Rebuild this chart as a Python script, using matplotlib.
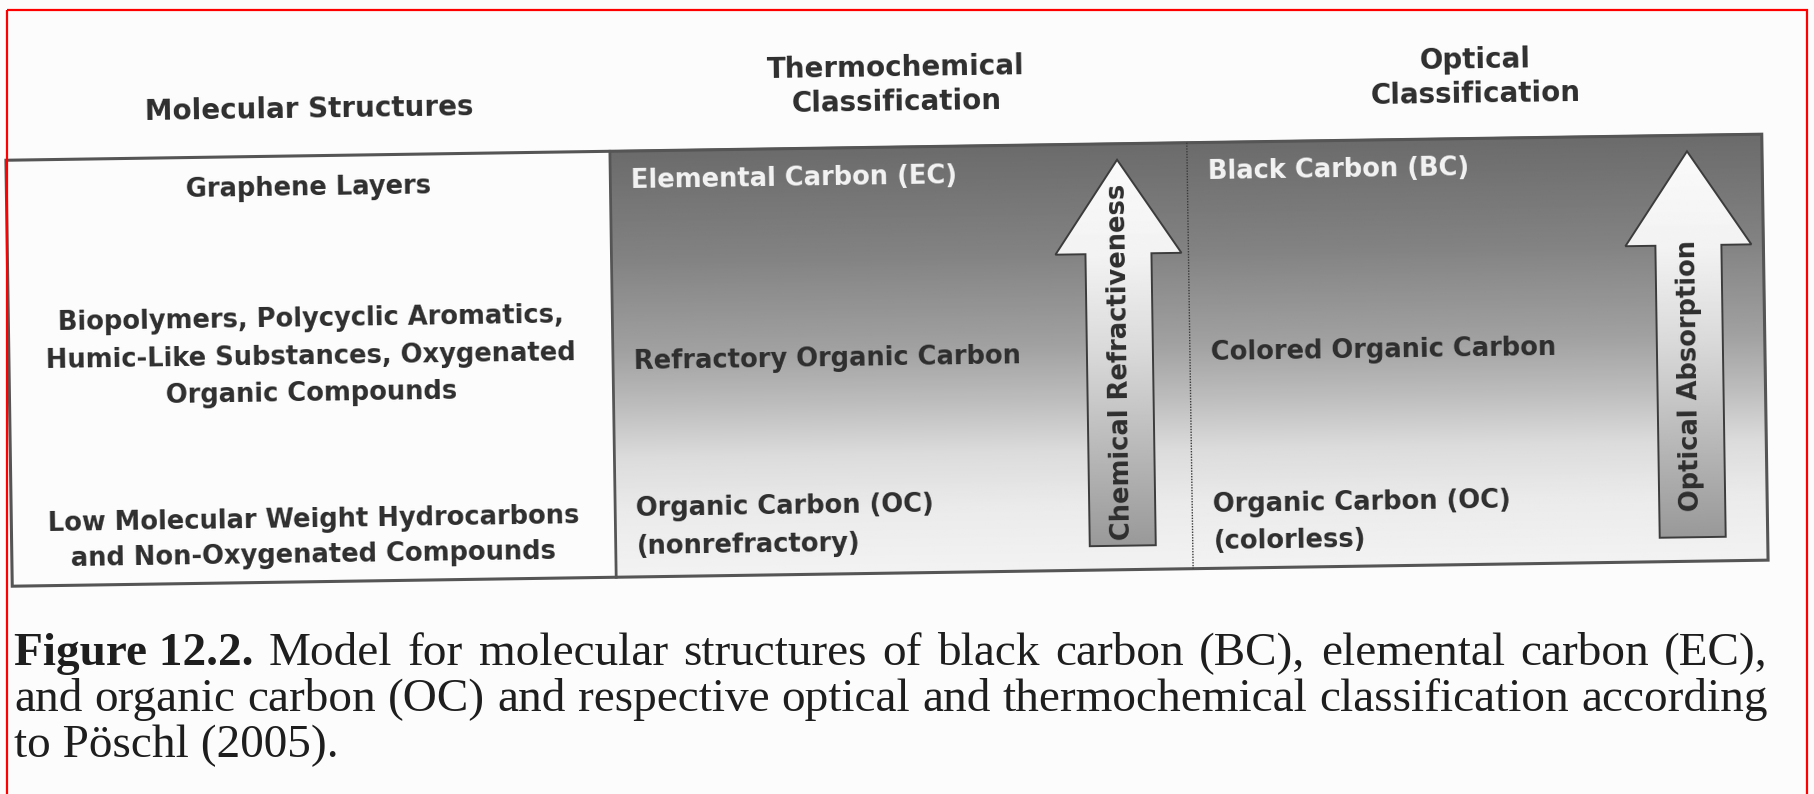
import matplotlib
matplotlib.use("Agg")
import matplotlib.pyplot as plt
import numpy as np
from matplotlib.patches import Rectangle, Polygon
from matplotlib.transforms import Affine2D

# Noi dung so do (doc tu hinh goc)
col_headers = ["Molecular Structures", "Thermochemical\nClassification", "Optical\nClassification"]
structures = [
    "Graphene Layers",
    "Biopolymers, Polycyclic Aromatics,\nHumic-Like Substances, Oxygenated\nOrganic Compounds",
    "Low Molecular Weight Hydrocarbons\nand Non-Oxygenated Compounds",
]
thermo_classes = ["Elemental Carbon (EC)", "Refractory Organic Carbon", "Organic Carbon (OC)\n(nonrefractory)"]
optical_classes = ["Black Carbon (BC)", "Colored Organic Carbon", "Organic Carbon (OC)\n(colorless)"]
arrow_labels = ["Chemical Refractiveness", "Optical Absorption"]
caption_bold = "Figure 12.2."
caption_lines = [
    "Model for molecular structures of black carbon (BC), elemental carbon (EC),",
    "and organic carbon (OC) and respective optical and thermochemical classification according",
    "to Pöschl (2005).",
]

W, H = 1814, 794
TILT = 0.85  # ban scan hoi nghieng

fig = plt.figure(figsize=(W / 100, H / 100), dpi=100)
fig.patch.set_facecolor("#fcfcfc")
ax = fig.add_axes([0, 0, 1, 1])
ax.set_xlim(0, W)
ax.set_ylim(H, 0)
ax.axis("off")

tr = Affine2D().rotate_deg_around(900, 360, -TILT) + ax.transData

top, bot = 147, 573
x_left, x_mid1, x_mid2, x_right = 9, 613, 1190, 1765
LINE = "#555555"
DARK = "#2e2e2e"


def ramp(stops, n=256):
    t = np.linspace(0, 1, n)
    return np.interp(t, [s[0] for s in stops], [s[1] for s in stops]).reshape(-1, 1)


def txt(x, y, s, size=18.5, rot=0.0, **kw):
    ax.text(x, y, s, transform=tr, rotation=TILT + rot, rotation_mode="anchor",
            fontfamily="DejaVu Sans", fontweight="bold", fontsize=size, **kw)


# Nen gradient cho hai cot phan loai
panel = ramp([(0, 0.42), (0.25, 0.51), (0.47, 0.63), (0.6, 0.74), (0.72, 0.86), (0.85, 0.92), (1, 0.95)])
ax.imshow(panel, cmap="gray", vmin=0, vmax=1, extent=(x_mid1, x_right, bot, top),
          aspect="auto", interpolation="bilinear", transform=tr, zorder=1)

# Khung bang
ax.add_patch(Rectangle((x_left, top), x_right - x_left, bot - top, fill=False,
                       ec=LINE, lw=2.2, transform=tr, zorder=3))
ax.plot([x_mid1, x_mid1], [top, bot], color=LINE, lw=2.0, transform=tr, zorder=3)
ax.plot([x_mid2, x_mid2], [top, bot], color="#3a3a3a", lw=1.0, ls=(0, (1, 1)), transform=tr, zorder=3)

# Tieu de cot
txt(313, 101, col_headers[0], size=20, ha="center", va="center", color=DARK)
txt(900, 85, col_headers[1], size=20, ha="center", va="center", color=DARK, linespacing=1.28)
txt(1479, 86, col_headers[2], size=20, ha="center", va="center", color=DARK, linespacing=1.28)

# Cot cau truc phan tu
struct_y = [179, 348, 529]
struct_ls = [1.4, 1.56, 1.42]
for s, y, ls in zip(structures, struct_y, struct_ls):
    txt(311, y, s, ha="center", va="center", color=DARK, linespacing=ls)

# Hai cot phan loai
for col_x, labels, ys in [(634, thermo_classes, [177, 358, 524]),
                          (1211, optical_classes, [177, 358, 528])]:
    for i, (s, y) in enumerate(zip(labels, ys)):
        c = "#f4f4f4" if i == 0 else DARK
        txt(col_x, y, s, ha="left", va="center", color=c, linespacing=1.58)

# Mui ten
arrow_x = [1120, 1690]
arrow_text_y = [365, 387]
tip, head_base, arr_bot = 163, 257, 549
hh, sh = 63, 33
shaft = ramp([(0, 0.98), (0.25, 0.95), (0.5, 0.85), (1, 0.6)])
for cx, lab, ty in zip(arrow_x, arrow_labels, arrow_text_y):
    pts = [(cx, tip), (cx + hh, head_base), (cx + sh, head_base), (cx + sh, arr_bot),
           (cx - sh, arr_bot), (cx - sh, head_base), (cx - hh, head_base)]
    poly = Polygon(pts, closed=True, fill=False, ec="#3c3c3c", lw=1.4, transform=tr, zorder=5)
    im = ax.imshow(shaft, cmap="gray", vmin=0, vmax=1, extent=(cx - hh, cx + hh, arr_bot, tip),
                   aspect="auto", interpolation="bilinear", transform=tr, zorder=4)
    ax.add_patch(poly)
    im.set_clip_path(poly)
    txt(cx, ty, lab, rot=90, ha="center", va="center", color=DARK, zorder=6)

# Chu thich hinh (can deu hai le cho hai dong dau)
cap_kw = dict(fontfamily="Liberation Serif", fontsize=34, va="baseline", color="#1e1e1e")
cap_x, cap_right, cap_y = 14, 1768, [665, 711, 757]


def justify(words, y, x0, x1, bold_first=False):
    items = []
    for k, w in enumerate(words):
        wt = "bold" if (bold_first and k == 0) else "normal"
        items.append(ax.text(x0, y, w, fontweight=wt, **cap_kw))
    fig.canvas.draw()
    r = fig.canvas.get_renderer()
    widths = [t.get_window_extent(r).width for t in items]
    gap = (x1 - x0 - sum(widths)) / (len(items) - 1)
    x = x0
    for t, w in zip(items, widths):
        t.set_x(x)
        x += w + gap


justify([caption_bold] + caption_lines[0].split(), cap_y[0], cap_x, cap_right, bold_first=True)
justify(caption_lines[1].split(), cap_y[1], cap_x, cap_right)
ax.text(cap_x, cap_y[2], caption_lines[2], **cap_kw)

# Khung do bao quanh
ax.add_patch(Rectangle((7, 10), 1800, 820, fill=False, ec="#ff0000", lw=1.6, zorder=10, clip_on=False))

ax.set_xlim(0, W)
ax.set_ylim(H, 0)
fig.savefig("out.png", dpi=100, facecolor=fig.get_facecolor())
